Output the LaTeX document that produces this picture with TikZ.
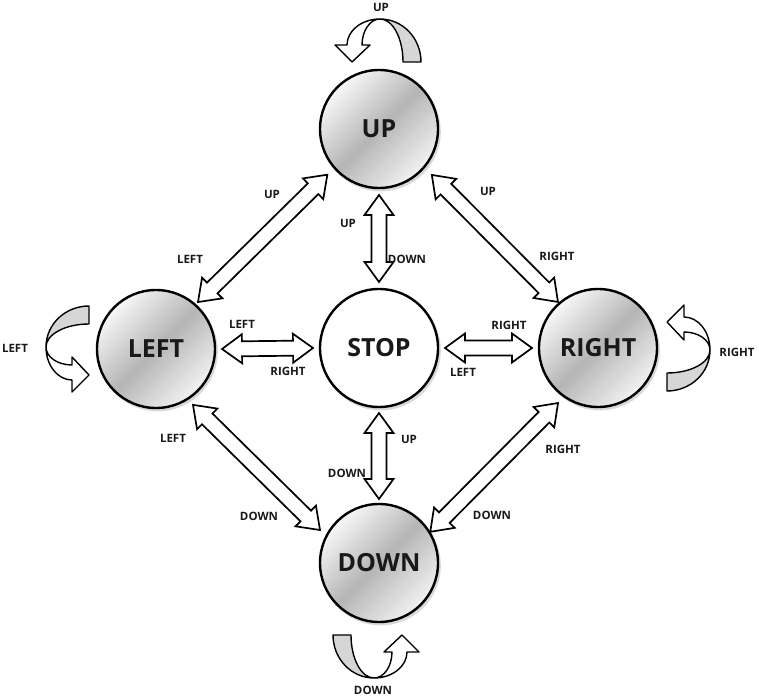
\documentclass[tikz,border=0pt]{standalone}
\usepackage{fontspec}
\setmainfont{Open Sans}
\usetikzlibrary{calc}
\tikzset{
  state/.style={circle, draw=black, line width=2.4pt, minimum size=118pt, inner sep=0pt,
    font=\fontsize{25}{27}\selectfont\bfseries, text=black!90},
  shadedstate/.style={state, top color=gray!6, bottom color=gray!10, middle color=gray!58, shading angle=45},
  dbl/.style={draw=black, fill=white, line width=1.7pt, line join=miter},
  lbl/.style={font=\fontsize{11.5}{13}\selectfont\bfseries, text=black!90, inner sep=0pt},
  loopline/.style={draw=black, line width=1.4pt, line join=round},
  selfloop/.pic={
    \draw[loopline, fill=white] (0,43) arc[start angle=90, end angle=180, x radius=33, y radius=26]
      -- (-45,17) -- (-28,0) -- (-10,17) -- (-18,17)
      arc[start angle=180, end angle=90, x radius=18, y radius=26] -- cycle;
    \draw[loopline, fill=gray!32] (41,0) arc[start angle=0, end angle=90, x radius=41, y radius=43]
      arc[start angle=90, end angle=0, x radius=23, y radius=43] -- cycle;
  }
}
% hollow two-headed arrow from coordinate #1 to coordinate #2
\newcommand\twoway[2]{%
  \draw[dbl] (#1) -- ($(#1)!20pt!(#2)!14.5pt!90:(#2)$) -- ($(#1)!20pt!(#2)!7.5pt!90:(#2)$)
    -- ($(#2)!20pt!(#1)!7.5pt!-90:(#1)$) -- ($(#2)!20pt!(#1)!14.5pt!-90:(#1)$)
    -- (#2) -- ($(#2)!20pt!(#1)!14.5pt!90:(#1)$) -- ($(#2)!20pt!(#1)!7.5pt!90:(#1)$)
    -- ($(#1)!20pt!(#2)!7.5pt!-90:(#2)$) -- ($(#1)!20pt!(#2)!14.5pt!-90:(#2)$) -- cycle;}
\begin{document}
\begin{tikzpicture}[x=1pt,y=1pt]
\useasboundingbox (0,0) rectangle (759,699);
% shadows
\foreach \p in {(379,570),(156,350),(379,351),(598,351),(379,136)}
  \fill[gray!30] \p ++(1.8,-2.4) circle (60);
% states
\node[shadedstate] (UP) at (379,570) {UP};
\node[shadedstate] (LEFT) at (156,350) {LEFT};
\node[state, fill=white] (STOP) at (379,351) {STOP};
\node[shadedstate] (RIGHT) at (598,351) {RIGHT};
\node[shadedstate] (DOWN) at (379,136) {DOWN};
% arrow end points
\coordinate (us1) at ($(UP)+(-90:66)$);
\coordinate (us2) at ($(STOP)+(90:66)$);
\coordinate (sd1) at ($(STOP)+(-90:65)$);
\coordinate (sd2) at ($(DOWN)+(90:64)$);
\coordinate (ls1) at ($(LEFT)+(0:66)$);
\coordinate (ls2) at ($(STOP)+(180:66)$);
\coordinate (sr1) at ($(STOP)+(0:66)$);
\coordinate (sr2) at ($(RIGHT)+(180:66)$);
\coordinate (lu1) at ($(LEFT)+(48.2:63)$);
\coordinate (lu2) at ($(UP)+(221.5:69)$);
\coordinate (ur1) at ($(UP)+(-41:70)$);
\coordinate (ur2) at ($(RIGHT)+(131:61)$);
\coordinate (ld1) at ($(LEFT)+(-56.5:67)$);
\coordinate (ld2) at ($(DOWN)+(150.8:67.6)$);
\coordinate (rd1) at ($(RIGHT)+(234:68)$);
\coordinate (rd2) at ($(DOWN)+(31.3:60)$);
\twoway{us1}{us2}
\twoway{sd1}{sd2}
\twoway{ls1}{ls2}
\twoway{sr1}{sr2}
\twoway{lu1}{lu2}
\twoway{ur1}{ur2}
\twoway{ld1}{ld2}
\twoway{rd1}{rd2}
% self loops
\pic (loopU) at (380,637) {selfloop};
\pic[rotate=90] (loopL) at (89,352) {selfloop};
\pic[rotate=-90] (loopR) at (667,349) {selfloop};
\pic[rotate=180] (loopD) at (374,64) {selfloop};
% labels
\node[lbl] (t1) at (381,692) {UP};
\node[lbl] (t2) at (272,505) {UP};
\node[lbl] (t3) at (190,440) {LEFT};
\node[lbl] (t4) at (348,476) {UP};
\node[lbl] (t5) at (407,440) {DOWN};
\node[lbl] (t6) at (488,508) {UP};
\node[lbl] (t7) at (557,443) {RIGHT};
\node[lbl] (t8) at (15,351) {LEFT};
\node[lbl] (t9) at (242,375) {LEFT};
\node[lbl] (t10) at (288,328) {RIGHT};
\node[lbl] (t11) at (509,374) {RIGHT};
\node[lbl] (t12) at (463,327) {LEFT};
\node[lbl] (t13) at (737,347) {RIGHT};
\node[lbl] (t14) at (173,261) {LEFT};
\node[lbl] (t15) at (259,183) {DOWN};
\node[lbl] (t16) at (409,260) {UP};
\node[lbl] (t17) at (347,226) {DOWN};
\node[lbl] (t18) at (563,250) {RIGHT};
\node[lbl] (t19) at (492,184) {DOWN};
\node[lbl] (t20) at (373,9) {DOWN};
\end{tikzpicture}
\end{document}
